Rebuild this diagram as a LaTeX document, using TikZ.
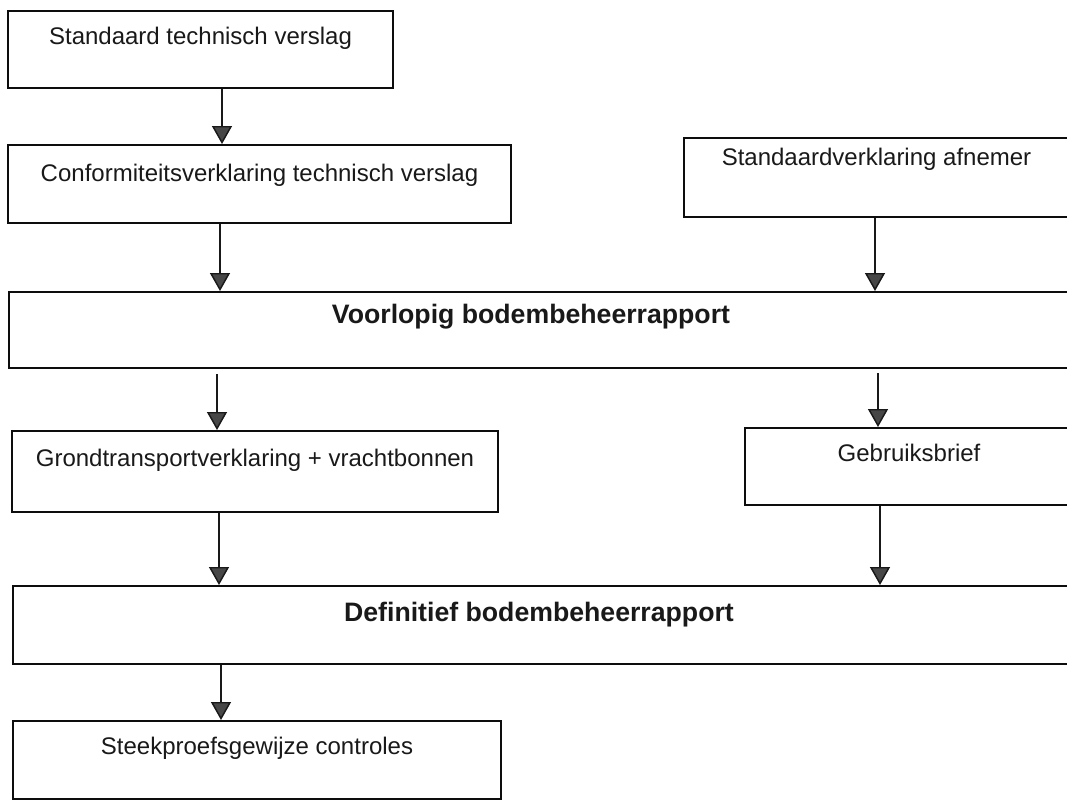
\documentclass[tikz,border=0pt]{standalone}
\usepackage{fontspec}
\setmainfont{Liberation Sans}
\usetikzlibrary{arrows.meta}
\begin{document}
\begin{tikzpicture}[x=0.75pt,y=-0.75pt,
  box/.style={draw=black!95, line width=1.5pt, rectangle, inner sep=0pt, anchor=north west,
    font=\fontsize{18}{20}\selectfont, text=black!90},
  bbox/.style={box, font=\fontsize{20}{22}\selectfont\bfseries},
  arr/.style={draw=black!90, line width=1.1pt,
    -{Triangle[length=13.5pt,width=15pt,fill=black!72]}}]
\useasboundingbox[fill=white] (0,0) rectangle (1067,800);

% boxes
\node[box, minimum width=288.75pt, text height=24.75pt, text depth=33pt] (s1) at (7,10) {Standaard technisch verslag};
\node[box, minimum width=377.25pt, text height=27pt, text depth=31.5pt] (c2) at (7,144) {Conformiteitsverklaring technisch verslag};
\node[box, minimum width=291.75pt, text height=20.25pt, text depth=39pt] (sa3) at (683,137) {Standaardverklaring afnemer\hspace*{3pt}};
\node[bbox, minimum width=798pt, text height=23.25pt, text depth=33.75pt] (v4) at (8,291) {Voorlopig bodembeheerrapport\hspace*{15pt}};
\node[box, minimum width=364.5pt, text height=26.25pt, text depth=34.5pt] (g5) at (11,430) {Grondtransportverklaring + vrachtbonnen};
\node[box, minimum width=246pt, text height=24.75pt, text depth=33pt] (gb6) at (744,427) {Gebruiksbrief};
\node[bbox, minimum width=795pt, text height=26.25pt, text depth=32.25pt] (d7) at (12,585) {Definitief bodembeheerrapport\hspace*{6pt}};
\node[box, minimum width=366pt, text height=24.75pt, text depth=33.75pt] (st8) at (12,720) {Steekproefsgewijze controles};

% arrow columns
\coordinate (xa1) at (222,0);
\coordinate (xa2) at (220,0);
\coordinate (xa3) at (875,0);
\coordinate (xa4) at (217,0);
\coordinate (xa5) at (878,0);
\coordinate (xa6) at (219,0);
\coordinate (xa7) at (880,0);
\coordinate (xa8) at (221,0);

% connectors
\draw[arr] (s1.south -| xa1) -- (c2.north -| xa1);
\draw[arr] (c2.south -| xa2) -- (v4.north -| xa2);
\draw[arr] (sa3.south -| xa3) -- (v4.north -| xa3);
\draw[arr, shorten <=4pt] (v4.south -| xa4) -- (g5.north -| xa4);
\draw[arr, shorten <=3pt] (v4.south -| xa5) -- (gb6.north -| xa5);
\draw[arr] (g5.south -| xa6) -- (d7.north -| xa6);
\draw[arr] (gb6.south -| xa7) -- (d7.north -| xa7);
\draw[arr] (d7.south -| xa8) -- (st8.north -| xa8);
\end{tikzpicture}
\end{document}
